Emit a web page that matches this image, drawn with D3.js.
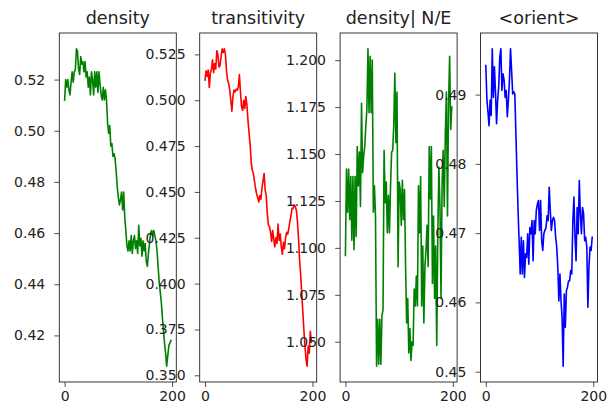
<!DOCTYPE html>
<html><head><meta charset="utf-8">
<script src="https://cdn.jsdelivr.net/npm/d3@7"></script>
<style>body{margin:0;background:#fff}svg{display:block}text{font-family:"DejaVu Sans",sans-serif;fill:#222}</style>
</head><body><svg id="c" width="608" height="412"></svg>
<script>
const titles = ["density", "transitivity", "density| N/E", "<orient>"];
const colors = ["#008000", "#ff0000", "#008000", "#0000ff"];
const xTicks = [0, 200];
const yTicks1 = [0.42, 0.44, 0.46, 0.48, 0.50, 0.52];
const yTicks2 = [0.350, 0.375, 0.400, 0.425, 0.450, 0.475, 0.500, 0.525];
const yTicks3 = [1.050, 1.075, 1.100, 1.125, 1.150, 1.175, 1.200];
const yTicks4 = [0.45, 0.46, 0.47, 0.48, 0.49];
const tickFormats = [".2f", ".3f", ".3f", ".2f"];
// sample steps (every second iteration)
const steps = d3.range(0, 200, 2);

const density = [0.512,0.520,0.517,0.520,0.516,0.514,0.519,0.523,0.519,0.523,
0.524,0.532,0.531,0.524,0.522,0.529,0.526,0.527,0.523,0.527,
0.521,0.523,0.517,0.521,0.514,0.523,0.520,0.514,0.523,0.517,
0.523,0.515,0.523,0.518,0.514,0.512,0.517,0.512,0.516,0.512,
0.503,0.499,0.502,0.494,0.495,0.490,0.491,0.489,0.484,0.478,
0.474,0.471,0.473,0.476,0.469,0.476,0.466,0.461,0.455,0.453,
0.457,0.453,0.459,0.452,0.457,0.459,0.454,0.457,0.452,0.463,
0.455,0.458,0.451,0.457,0.453,0.456,0.449,0.447,0.452,0.456,
0.460,0.461,0.459,0.461,0.459,0.457,0.453,0.447,0.441,0.437,
0.433,0.427,0.422,0.417,0.413,0.408,0.412,0.416,0.417,0.418];

const transitivity = [0.511,0.516,0.513,0.5165,0.507,0.515,0.517,0.522,0.515,0.520,
0.517,0.527,0.525,0.518,0.519,0.524,0.528,0.526,0.528,0.525,
0.516,0.511,0.509,0.5055,0.500,0.494,0.502,0.5055,0.5045,0.506,
0.5055,0.507,0.514,0.5045,0.4965,0.4945,0.500,0.4955,0.502,0.4975,
0.489,0.482,0.476,0.466,0.462,0.460,0.456,0.452,0.449,0.447,
0.4445,0.448,0.446,0.452,0.456,0.460,0.451,0.448,0.438,0.432,
0.431,0.428,0.423,0.429,0.424,0.420,0.425,0.422,0.4325,0.4235,
0.427,0.420,0.416,0.4225,0.419,0.425,0.428,0.427,0.430,0.434,
0.437,0.441,0.441,0.443,0.442,0.440,0.434,0.425,0.413,0.405,
0.395,0.385,0.375,0.366,0.359,0.355,0.366,0.362,0.374,0.368];

const densityNE = [1.096,1.142,1.119,1.142,1.115,1.138,1.104,1.138,1.099,1.138,
1.106,1.154,1.133,1.151,1.122,1.177,1.140,1.149,1.154,1.165,
1.174,1.206,1.172,1.202,1.172,1.200,1.119,1.133,1.117,1.037,
1.062,1.038,1.062,1.038,1.064,1.067,1.152,1.124,1.135,1.108,
1.128,1.108,1.133,1.151,1.152,1.165,1.193,1.156,1.183,1.090,
1.135,1.131,1.112,1.136,1.115,1.131,1.090,1.060,1.073,1.044,
1.057,1.040,1.050,1.048,1.078,1.069,1.085,1.069,1.133,1.108,
1.138,1.069,1.101,1.060,1.090,1.099,1.112,1.090,1.154,1.126,
1.154,1.081,1.117,1.073,1.101,1.048,1.108,1.143,1.122,1.073,
1.135,1.152,1.122,1.161,1.183,1.117,1.177,1.202,1.163,1.175];

const orient = [0.4942,0.4893,0.4875,0.4855,0.4892,0.4870,0.4966,0.4896,0.4940,0.4904,
0.4858,0.4892,0.4911,0.4954,0.4966,0.4906,0.4930,0.4921,0.4896,0.4906,
0.4868,0.4892,0.4921,0.4966,0.4935,0.4901,0.4904,0.4901,0.4843,0.4786,
0.4733,0.4689,0.4641,0.4694,0.4641,0.4689,0.4636,0.4670,0.4665,0.4699,
0.4655,0.4708,0.4699,0.4718,0.4660,0.4718,0.4699,0.4733,0.4742,0.4747,
0.4704,0.4747,0.4689,0.4675,0.4699,0.4704,0.4708,0.4725,0.4718,0.4766,
0.4733,0.4704,0.4718,0.4723,0.4718,0.4694,0.4680,0.4651,0.4602,0.4641,
0.4602,0.4578,0.4508,0.4612,0.4564,0.4617,0.4622,0.4631,0.4631,0.4646,
0.4641,0.4718,0.4752,0.4694,0.4660,0.4737,0.4699,0.4776,0.4728,0.4699,
0.4737,0.4728,0.4689,0.4694,0.4680,0.4593,0.4651,0.4680,0.4675,0.4694];

const seriesList = [density, transitivity, densityNE, orient];
const yTickList = [yTicks1, yTicks2, yTicks3, yTicks4];

const svg = d3.select("#c");
const plotTop = 33, plotBottom = 382, pw = 117, gap = 23.4, left0 = 59.3;

function padded(ext) { const r = ext[1] - ext[0]; return [ext[0] - 0.05 * r, ext[1] + 0.05 * r]; }

seriesList.forEach((vals, k) => {
  const left = left0 + k * (pw + gap);
  const x = d3.scaleLinear().domain(padded(d3.extent(steps))).range([left, left + pw]);
  const y = d3.scaleLinear().domain(padded(d3.extent(vals))).range([plotBottom, plotTop]);
  const g = svg.append("g");

  const line = d3.line().x((d, i) => x(steps[i])).y(d => y(d));
  g.append("path").datum(vals).attr("d", line)
    .attr("fill", "none").attr("stroke", colors[k]).attr("stroke-width", 1.6)
    .attr("stroke-linejoin", "round").attr("stroke-linecap", "square");

  const xa = g.append("g").attr("transform", `translate(0,${plotBottom})`)
    .call(d3.axisBottom(x).tickValues(xTicks).tickSize(4.9).tickPadding(4).tickFormat(d3.format("d")));
  const ya = g.append("g").attr("transform", `translate(${left},0)`)
    .call(d3.axisLeft(y).tickValues(yTickList[k]).tickSize(4.9).tickPadding(9.2).tickFormat(d3.format(tickFormats[k])));
  [xa, ya].forEach(a => {
    a.select(".domain").remove();
    a.selectAll("line").attr("stroke", "#222").attr("stroke-width", 0.8);
    a.selectAll("text").attr("font-size", 14).attr("fill", "#222")
      .attr("font-family", "DejaVu Sans, sans-serif");
  });
  g.append("rect").attr("x", left).attr("y", plotTop).attr("width", pw).attr("height", plotBottom - plotTop)
    .attr("fill", "none").attr("stroke", "#222").attr("stroke-width", 0.9);
  g.append("text").attr("x", left + pw / 2).attr("y", 23.5).attr("text-anchor", "middle")
    .attr("font-size", 17.5).text(titles[k]);
});
</script></body></html>
